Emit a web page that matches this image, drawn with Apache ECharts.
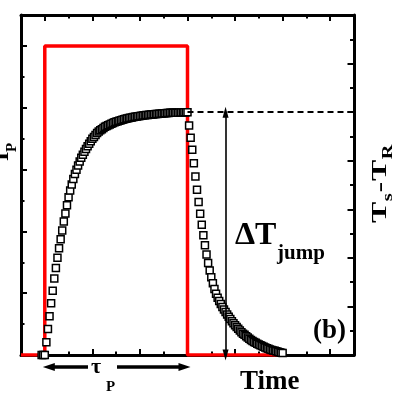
<!DOCTYPE html>
<html><head><meta charset="utf-8">
<script src="https://cdn.jsdelivr.net/npm/echarts@6/dist/echarts.min.js"></script>
<style>html,body{margin:0;padding:0;background:#fff;overflow:hidden}#c{width:409px;height:394px}</style>
</head><body><div id="c"></div>
<script>
// ---- data (time in arbitrary units, power on left axis, temperature on right axis) ----
const pulseTime  = [0, 1, 1, 7, 7, 11];
const pulsePower = [0, 0, 10, 10, 0, 0];

const riseTime = [0.867,0.933,
 1.000,1.067,1.133,1.200,1.267,1.333,1.400,1.467,1.533,1.600,
 1.667,1.733,1.800,1.867,1.933,2.000,2.067,2.133,2.200,2.267,
 2.333,2.400,2.467,2.533,2.600,2.667,2.733,2.800,2.867,2.933,
 3.000,3.067,3.133,3.200,3.267,3.333,3.400,3.467,3.533,3.600,
 3.667,3.733,3.800,3.867,3.933,4.000,4.067,4.133,4.200,4.267,
 4.333,4.400,4.467,4.533,4.600,4.667,4.733,4.800,4.867,4.933,
 5.000,5.067,5.133,5.200,5.267,5.333,5.400,5.467,5.533,5.600,
 5.667,5.733,5.800,5.867,5.933,6.000,6.067,6.133,6.200,6.267,
 6.333,6.400,6.467,6.533,6.600,6.667,6.733,6.800,6.867,6.933,
 7.000];
const riseTemp = [0.00,0.00,
 0.00,0.53,1.07,1.60,2.13,2.65,3.15,3.58,4.00,4.40,
 4.77,5.13,5.50,5.83,6.17,6.50,6.77,7.02,7.25,7.45,
 7.63,7.80,7.97,8.12,8.25,8.37,8.48,8.60,8.70,8.80,
 8.90,8.98,9.06,9.14,9.20,9.25,9.30,9.35,9.40,9.43,
 9.46,9.49,9.52,9.55,9.58,9.60,9.62,9.65,9.67,9.69,
 9.71,9.73,9.74,9.76,9.77,9.78,9.80,9.81,9.82,9.83,
 9.84,9.85,9.86,9.87,9.88,9.88,9.89,9.90,9.90,9.91,
 9.92,9.92,9.93,9.93,9.94,9.95,9.95,9.96,9.96,9.97,
 9.97,9.97,9.98,9.98,9.98,9.99,9.99,9.99,10.00,10.00,
 10.00];

const decayTime = [
 7.067,7.133,7.200,7.267,7.333,7.400,7.467,7.533,7.600,7.667,
 7.733,7.800,7.867,7.933,8.000,8.067,8.133,8.200,8.267,8.333,
 8.400,8.467,8.533,8.600,8.667,8.733,8.800,8.867,8.933,9.000,
 9.067,9.133,9.200,9.267,9.333,9.400,9.467,9.533,9.600,9.667,
 9.733,9.800,9.867,9.933,10.000,10.067,10.133,10.200,10.267,10.333,
 10.400,10.467,10.533,10.600,10.667,10.733,10.800,10.867,10.933,11.000];
const decayTemp = [
 9.45,8.95,8.45,7.90,7.35,6.80,6.30,5.82,5.36,4.93,
 4.52,4.14,3.79,3.48,3.20,2.95,2.72,2.52,2.36,2.22,
 2.10,1.98,1.87,1.77,1.67,1.57,1.48,1.39,1.31,1.23,
 1.15,1.08,1.01,0.94,0.88,0.83,0.77,0.72,0.67,0.62,
 0.58,0.54,0.50,0.46,0.43,0.40,0.37,0.34,0.31,0.28,
 0.26,0.23,0.21,0.19,0.17,0.15,0.13,0.11,0.09,0.08];

const plateauTemp = 10;
const jumpArrowTime = 8.6;
const xMax = 14, powerMax = 11, tempMax = 14;
const xLongTicks = [1,3,5,7,9,11,13];
const powerLongTicks = [0,2,4,6,8,10];
const tempLongTicks = [0,2,4,6,8,10,12,14];

// ---- chart ----
const SERIF = '"Liberation Serif","Times New Roman",serif';
const chart = echarts.init(document.getElementById('c'), null, {renderer: 'canvas'});

const tickStyle = {color: '#000', width: 2};
function axis(kind, pos, max, opts) {
  const a = {
    type: 'value', position: pos, min: 0, max: max,
    axisLine: {show: !!opts.line, onZero: false, lineStyle: {color: '#000', width: 3}},
    axisTick: {show: true, inside: true, length: opts.len, lineStyle: tickStyle},
    axisLabel: {show: false}, splitLine: {show: false}, axisPointer: {show: false}
  };
  if (opts.custom) a.axisTick.customValues = opts.custom; else a.interval = 1;
  return a;
}

const pulseData = pulseTime.map((t, i) => [t, pulsePower[i]]);
const tempData = riseTime.map((t, i) => [t, riseTemp[i]])
  .concat(decayTime.map((t, i) => [t, decayTemp[i]]));

chart.setOption({
  animation: false,
  backgroundColor: '#fff',
  grid: {left: 21, right: 55, top: 15, bottom: 39},
  xAxis: [
    axis('x', 'bottom', xMax, {line: true, len: 3.5}),
    axis('x', 'bottom', xMax, {len: 6, custom: xLongTicks}),
    axis('x', 'top', xMax, {line: true, len: 3.5}),
    axis('x', 'top', xMax, {len: 6, custom: xLongTicks})
  ],
  yAxis: [
    axis('y', 'left', powerMax, {line: true, len: 3.5}),
    axis('y', 'left', powerMax, {len: 6, custom: powerLongTicks}),
    axis('y', 'right', tempMax, {line: true, len: 4}),
    axis('y', 'right', tempMax, {len: 6.5, custom: tempLongTicks})
  ],
  series: [
    {
      type: 'line', xAxisIndex: 0, yAxisIndex: 0, data: pulseData,
      symbol: 'none', lineStyle: {color: '#ff0000', width: 3.5}, z: 2, silent: true
    },
    {
      type: 'scatter', xAxisIndex: 0, yAxisIndex: 2, data: tempData,
      symbol: 'rect', symbolSize: 7, clip: false, z: 3, silent: true,
      itemStyle: {color: '#fff', borderColor: '#000', borderWidth: 1.5, opacity: 1},
      markLine: {
        silent: true, animation: false, symbol: ['none', 'none'],
        label: {show: false},
        data: [
          [{coord: [7, plateauTemp], lineStyle: {color: '#000', width: 1.8, type: [6, 4]}},
           {coord: [xMax, plateauTemp]}],
          [{coord: [jumpArrowTime, 0], symbol: 'triangle', symbolSize: [6, 11],
            lineStyle: {color: '#000', width: 1.6, type: 'solid'}},
           {coord: [jumpArrowTime, plateauTemp], symbol: 'triangle', symbolSize: [6, 11]}]
        ]
      }
    }
  ]
});

// ---- annotations ----
const xA = chart.convertToPixel({xAxisIndex: 0}, pulseTime[1]);
const xB = chart.convertToPixel({xAxisIndex: 0}, pulseTime[3]);
const yBase = chart.convertToPixel({yAxisIndex: 0}, 0);
const ay = yBase + 12;

function txt(text, x, y, size, extra) {
  return Object.assign({
    type: 'text', x: x, y: y, silent: true,
    style: Object.assign({
      text: text, fill: '#000',
      font: 'bold ' + size + 'px ' + SERIF,
      textAlign: 'left', textVerticalAlign: 'middle',
      align: 'left', verticalAlign: 'middle'
    }, extra || {})
  });
}

chart.setOption({
  graphic: [
    // tau_P double arrow
    {type: 'line', silent: true, shape: {x1: xA + 6, y1: ay, x2: 88, y2: ay}, style: {stroke: '#000', lineWidth: 3.5}},
    {type: 'polygon', silent: true, shape: {points: [[xA - 2, ay], [xA + 10, ay - 4], [xA + 10, ay + 4]]}, style: {fill: '#000'}},
    {type: 'line', silent: true, shape: {x1: 117, y1: ay, x2: xB - 4, y2: ay}, style: {stroke: '#000', lineWidth: 3.5}},
    {type: 'polygon', silent: true, shape: {points: [[xB + 3, ay], [xB - 9, ay - 4], [xB - 9, ay + 4]]}, style: {fill: '#000'}},
    txt('\u03C4', 91, 367, 22),
    txt('P', 106, 387, 15),
    txt('Time', 240, 382, 27),
    txt('\u0394T', 235, 236, 32),
    txt('jump', 277, 254, 21),
    txt('(b)', 313, 331, 27),
    // left label I_P (rotated)
    {type: 'group', x: 2, y: 161, rotation: Math.PI / 2, silent: true, children: [
      txt('I', 0, 0, 24),
      txt('P', 9, 10, 15)
    ]},
    // right label Ts - TR (rotated)
    {type: 'group', x: 380, y: 223, rotation: Math.PI / 2, scaleX: 1.45, silent: true, children: [
      txt('T', 0, 0, 22),
      txt('s', 15, 8, 14),
      txt('-', 21, 0, 22),
      txt('T', 29, 0, 22),
      txt('R', 44, 8, 14)
    ]}
  ]
});
</script></body></html>
